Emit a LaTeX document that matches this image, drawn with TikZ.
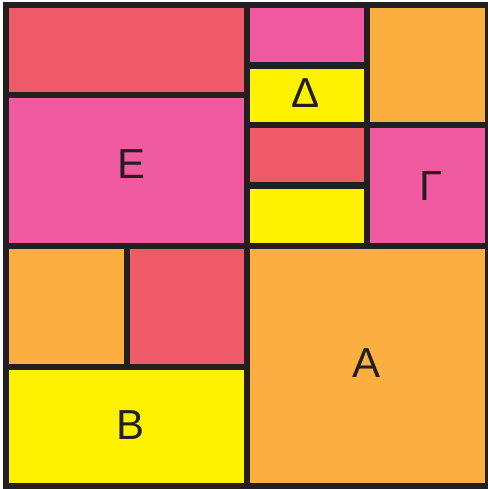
\documentclass[tikz,border=0pt]{standalone}
\usepackage{fontspec}
\setmainfont{Liberation Sans}
\definecolor{cred}{HTML}{F05B69}
\definecolor{cpink}{HTML}{EF5AA0}
\definecolor{corange}{HTML}{FBAF41}
\definecolor{cyellow}{HTML}{FFF200}
\definecolor{cline}{HTML}{231F20}
\tikzset{
  cell/.style={draw=cline, line width=6.3pt},
  lbl/.style={inner sep=0pt, text=cline, font=\fontsize{42}{42}\selectfont}
}
\begin{document}
\begin{tikzpicture}[x=1pt,y=-1pt]
\useasboundingbox (0,0) rectangle (487,489);
\fill[white] (0,0) rectangle (487,489);
% cells
\filldraw[cell, fill=cred]    (6,5) rectangle (247,95);
\filldraw[cell, fill=cpink]   (6,95) rectangle (247,246);
\filldraw[cell, fill=cpink]   (247,5) rectangle (367,65.5);
\filldraw[cell, fill=cyellow] (247,65.5) rectangle (367,125.3);
\filldraw[cell, fill=cred]    (247,125.3) rectangle (367,185.5);
\filldraw[cell, fill=cyellow] (247,185.5) rectangle (367,246);
\filldraw[cell, fill=corange] (367,5) rectangle (488,125.3);
\filldraw[cell, fill=cpink]   (367,125.3) rectangle (488,246);
\filldraw[cell, fill=corange] (6,246) rectangle (126.7,366.7);
\filldraw[cell, fill=cred]    (126.7,246) rectangle (247,366.7);
\filldraw[cell, fill=cyellow] (6,366.7) rectangle (247,486);
\filldraw[cell, fill=corange] (247,246) rectangle (488,486);
% labels
\node[lbl] (E) at (132,164.5) {Ε};
\node[lbl] (D) at (306,93) {Δ};
\node[lbl] (G) at (431,186) {Γ};
\node[lbl] (B) at (130.5,425.3) {Β};
\node[lbl] (A) at (366,363) {Α};
\end{tikzpicture}
\end{document}
